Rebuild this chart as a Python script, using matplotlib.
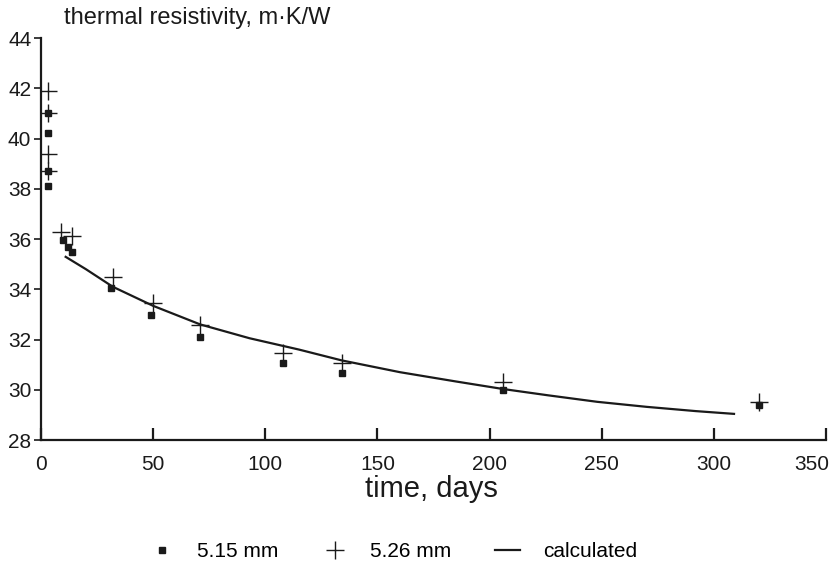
import numpy as np
import matplotlib.pyplot as plt
import matplotlib.transforms as mtransforms

# 5.15 mm sample (squares)
t_515 = [3, 3, 3, 3, 10, 12, 14, 31, 49, 71, 108, 134, 206, 320]
r_515 = [41.0, 40.2, 38.7, 38.1, 35.97, 35.7, 35.5, 34.06, 32.98, 32.1, 31.07, 30.67, 29.99, 29.4]

# 5.26 mm sample (plus)
t_526 = [3, 3, 3, 3, 9, 14, 32, 50, 71, 108, 134, 206, 320]
r_526 = [41.9, 41.0, 39.4, 38.7, 36.29, 36.1, 34.5, 33.46, 32.58, 31.47, 31.07, 30.31, 29.51]

# calculated curve
t_calc = [11, 20, 32, 50, 71, 93, 115, 134, 160, 185, 206, 226, 248, 270, 292, 309]
r_calc = [35.29, 34.8, 34.1, 33.34, 32.6, 32.05, 31.6, 31.17, 30.7, 30.33, 30.03, 29.78, 29.52, 29.32, 29.15, 29.04]

x_ticks = [0, 50, 100, 150, 200, 250, 300, 350]
y_ticks = [28, 30, 32, 34, 36, 38, 40, 42, 44]

plt.rcParams['font.family'] = ['Liberation Sans', 'DejaVu Sans']
ink = '#1a1a1a'

fig = plt.figure(figsize=(8.4, 5.69), dpi=100)
ax = fig.add_axes([0.0488, 0.2267, 0.9345, 0.7065])

ax.plot(t_515, r_515, 's', color=ink, markersize=4, linestyle='none', label='5.15 mm')
ax.plot(t_526, r_526, '+', color=ink, markersize=13, markeredgewidth=1.0, linestyle='none', label='5.26 mm')
ax.plot(t_calc, r_calc, '-', color=ink, linewidth=1.6, label='calculated')

ax.set_xlim(0, 350)
ax.set_ylim(28, 44)
ax.set_xticks(x_ticks)
ax.set_yticks(y_ticks)
ax.spines['top'].set_visible(False)
ax.spines['right'].set_visible(False)
for s in ['left', 'bottom']:
    ax.spines[s].set_linewidth(1.6)
    ax.spines[s].set_color(ink)

ax.tick_params(axis='x', direction='in', length=9, width=1.6, pad=11, labelsize=15, colors=ink)
ax.tick_params(axis='y', direction='out', length=5, width=1.2, pad=2, labelsize=15, colors=ink)

# last x label sits a little left of its tick
last = ax.get_xticklabels()[-1]
last.set_transform(last.get_transform() + mtransforms.ScaledTranslation(-10 / 72, 0, fig.dpi_scale_trans))

ax.set_xlabel('time, days', fontsize=21, color=ink)
ax.xaxis.set_label_coords(0.497, -0.088)
fig.text(0.076, 0.958, 'thermal resistivity, m\u00b7K/W', fontsize=17, color=ink, ha='left', va='baseline')

ax.legend(loc='center', bbox_to_anchor=(0.468, 0.030), bbox_transform=fig.transFigure,
          ncol=3, frameon=False, fontsize=15, handlelength=1.2, handletextpad=1.1,
          columnspacing=2.1, markerscale=1.0, borderpad=0, borderaxespad=0)

plt.savefig('out.png', dpi=100)
